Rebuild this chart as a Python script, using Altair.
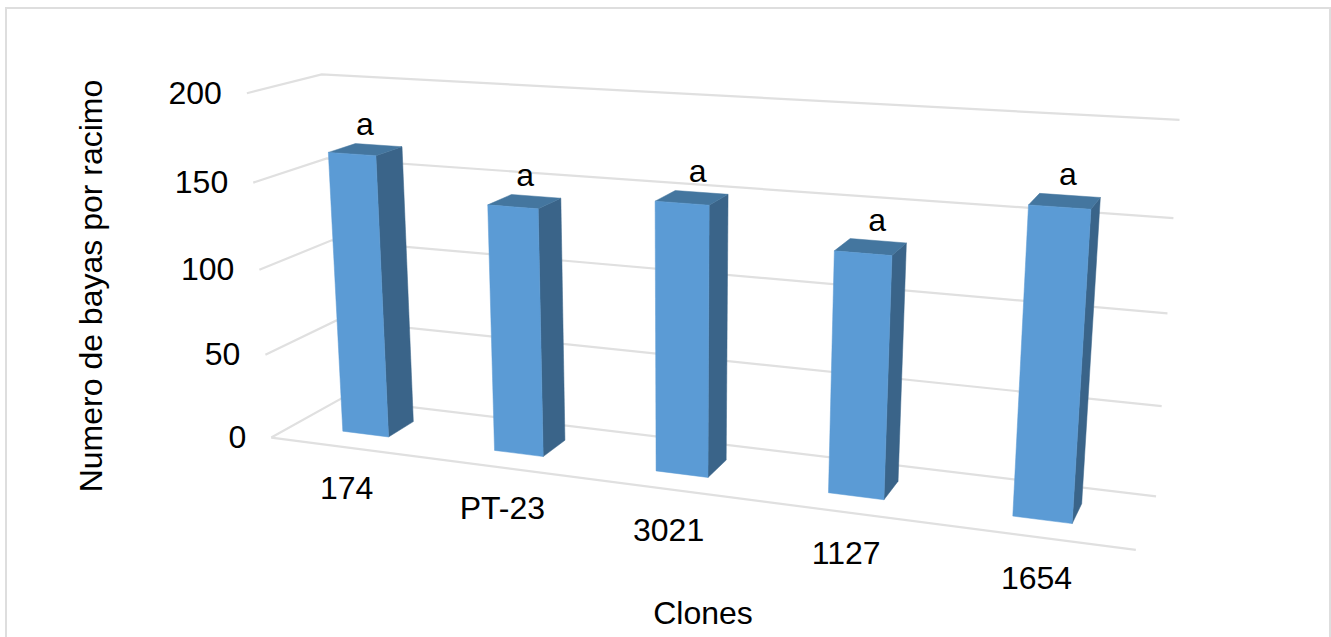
import altair as alt
import numpy as np
import pandas as pd

# Chart content
clones = ["174", "PT-23", "3021", "1127", "1654"]
berries = [165, 142, 151, 132, 163]
letters = ["a", "a", "a", "a", "a"]
ticks = [0, 50, 100, 150, 200]
y_title = "Numero de bayas por racimo"
x_title = "Clones"

# 3D box layout in chart units
BAR_HALF = 0.154
BAR_SHIFT = -0.01
BAR_LEAN = 0.015  # sideways drift of a bar's top against its foot
BAR_FRONT, BAR_BACK = 0.31, 0.69
LETTER_NUDGE = [-16, -13, -6, -3, -4]
FRONT_COLOR, SIDE_COLOR, TOP_COLOR = "#5B9BD5", "#3A6489", "#44769F"
GRID_COLOR = "#E0E0E0"
TEXT_FONT = "Liberation Sans"
FONT_SIZE = 32
W, H = 1331, 637

# Camera solved from (category, value, depth) -> page position pairs along the box edges
camera_pairs = [
    ((0, 0, 0), (272, 437)), ((0, 50, 0), (265, 355)), ((0, 100, 0), (259, 270)),
    ((0, 150, 0), (253, 182)), ((0, 200, 0), (247, 94)),
    ((0, 0, 1), (341, 399)), ((0, 200, 1), (322, 74)),
    ((5, 0, 1), (1156, 497)), ((5, 50, 1), (1162, 405)), ((5, 100, 1), (1167, 314)),
    ((5, 150, 1), (1173, 218)), ((5, 200, 1), (1180, 120)),
    ((5, 0, 0), (1136, 550)),
]


def solve_camera(pairs):
    rows = []
    for (u, v, w), (x, y) in pairs:
        X = [u / 5, v / 200, w, 1]
        x, y = x / 1000, y / 1000
        rows.append(X + [0, 0, 0, 0] + [-x * c for c in X])
        rows.append([0, 0, 0, 0] + X + [-y * c for c in X])
    return np.linalg.svd(np.array(rows))[2][-1].reshape(3, 4)


P = solve_camera(camera_pairs)


def project(u, v, w):
    a = P @ np.array([u / 5, v / 200, w, 1])
    return 1000 * a[0] / a[2], 1000 * a[1] / a[2]


x_scale = alt.Scale(domain=[0, W], range=[0, W], nice=False, zero=False)
y_scale = alt.Scale(domain=[0, H], range=[0, H], nice=False, zero=False)
x_enc = alt.X("x:Q", scale=x_scale, axis=None)
y_enc = alt.Y("y:Q", scale=y_scale, axis=None)


def outline(points, **style):
    rows = [{"x": px, "y": py, "n": i} for i, (px, py) in enumerate(points)]
    return alt.Chart(pd.DataFrame(rows)).mark_line(**style).encode(
        x=x_enc, y=y_enc, order=alt.Order("n:Q")
    )


def face(corners, color):
    pts = [project(*c) for c in corners]
    return outline(pts + pts[:1], fill=color, stroke=color, strokeWidth=0.5, interpolate="linear")


def label(rows, **style):
    return alt.Chart(pd.DataFrame(rows)).mark_text(
        font=TEXT_FONT, fontSize=FONT_SIZE, color="#000000", **style
    ).encode(x=x_enc, y=y_enc, text="t:N")


layers = []

# Outer frame of the chart area
layers.append(outline([(6, H + 4), (6, 8), (1330, 8), (1330, H + 4)], stroke="#DEDEDE", strokeWidth=2, clip=False))

# Walls: each tick draws along the side wall and the back wall; the floor adds its front edge
for t in ticks:
    layers.append(outline([project(0, t, 0), project(0, t, 1), project(5, t, 1)],
                          stroke=GRID_COLOR, strokeWidth=2.2))
layers.append(outline([project(0, 0, 0), project(5, 0, 0)], stroke=GRID_COLOR, strokeWidth=2.2))

# Bars: side, top and front faces
for i, val in enumerate(berries):
    centre = i + 0.5 + BAR_SHIFT
    u0, u1 = centre - BAR_HALF, centre + BAR_HALF
    t0, t1 = u0 + BAR_LEAN, u1 + BAR_LEAN
    f, b = BAR_FRONT, BAR_BACK
    layers.append(face([(u1, 0, f), (u1, 0, b), (t1, val, b), (t1, val, f)], SIDE_COLOR))
    layers.append(face([(t0, val, f), (t1, val, f), (t1, val, b), (t0, val, b)], TOP_COLOR))
    layers.append(face([(u0, 0, f), (u1, 0, f), (t1, val, f), (t0, val, f)], FRONT_COLOR))

# Value axis labels
tick_rows = []
for t in ticks:
    px, py = project(0, t, 0)
    tick_rows.append({"x": px - 25, "y": py + 0.5, "t": str(t)})
layers.append(label(tick_rows, align="right", baseline="middle"))

# Category labels under the front edge
cat_rows = []
for i, c in enumerate(clones):
    px, py = project(i + 0.5, 0, 0)
    cat_rows.append({"x": px + 1, "y": py + 42, "t": c})
layers.append(label(cat_rows, align="center", baseline="middle"))

# Significance letters over each bar
letter_rows = []
for i, (val, s) in enumerate(zip(berries, letters)):
    px, py = project(i + 0.5, val, BAR_BACK)
    letter_rows.append({"x": px + 3 + LETTER_NUDGE[i], "y": py - 10, "t": s})
layers.append(label(letter_rows, align="center", baseline="alphabetic"))

# Axis titles
layers.append(label([{"x": 703, "y": 614, "t": x_title}], align="center", baseline="middle"))
layers.append(label([{"x": 92, "y": 286, "t": y_title}], align="center", baseline="middle", angle=270))

chart = alt.layer(*layers).properties(
    width=W, height=H, padding=0, background="white",
    autosize=alt.AutoSizeParams(type="none"),
).configure_view(stroke=None)

chart.save("out.html", embed_options={"renderer": "svg", "actions": False})
